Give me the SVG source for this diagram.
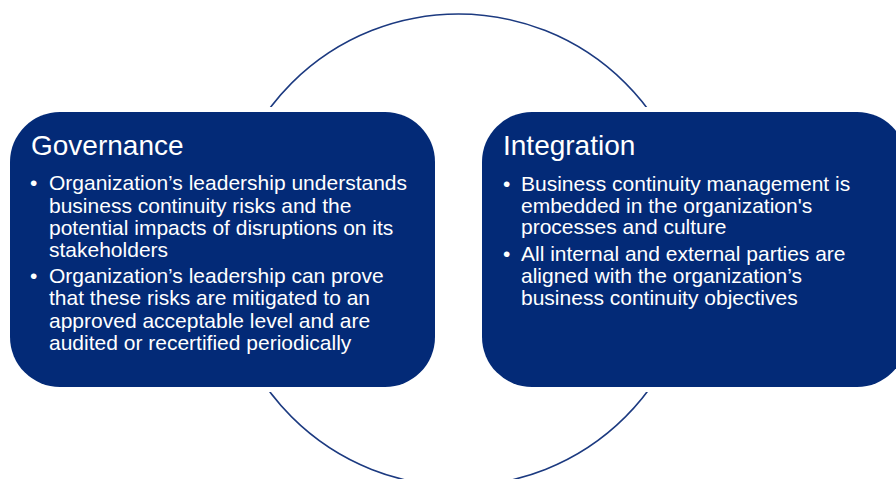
<svg xmlns="http://www.w3.org/2000/svg" width="896" height="479" viewBox="0 0 896 479">
<style>
.box{fill:#032a77}
.gap{fill:#ffffff}
.ring{fill:none;stroke:#1c3a80;stroke-width:1.5}
.title{font-family:"Liberation Sans",Arial,sans-serif;font-size:28px;fill:#ffffff}
.body{font-family:"Liberation Sans",Arial,sans-serif;font-size:21px;fill:#ffffff}
</style>
<rect width="896" height="479" fill="#ffffff"/>
<g id="connectors">
<circle class="ring" cx="458.5" cy="250" r="236"/>
</g>
<g id="governance">
<rect class="gap" x="5" y="107" width="435" height="285" rx="55" ry="55"/>
<rect class="box" x="10" y="112" width="425" height="275" rx="50" ry="50"/>
<text class="title" x="31" y="155">Governance</text>
<text class="body" x="30" y="190">•</text>
<text class="body" x="49" y="190">Organization’s leadership understands</text>
<text class="body" x="49" y="212.5">business continuity risks and the</text>
<text class="body" x="49" y="235">potential impacts of disruptions on its</text>
<text class="body" x="49" y="257">stakeholders</text>
<text class="body" x="30" y="283">•</text>
<text class="body" x="49" y="283">Organization’s leadership can prove</text>
<text class="body" x="49" y="305">that these risks are mitigated to an</text>
<text class="body" x="49" y="327.5">approved acceptable level and are</text>
<text class="body" x="49" y="349.5">audited or recertified periodically</text>
</g>
<g id="integration">
<rect class="gap" x="477" y="107" width="435" height="285" rx="55" ry="55"/>
<rect class="box" x="482" y="112" width="425" height="275" rx="50" ry="50"/>
<text class="title" x="503" y="155">Integration</text>
<text class="body" x="503" y="191">•</text>
<text class="body" x="521" y="191">Business continuity management is</text>
<text class="body" x="521" y="212.5">embedded in the organization's</text>
<text class="body" x="521" y="234">processes and culture</text>
<text class="body" x="503" y="261">•</text>
<text class="body" x="521" y="261">All internal and external parties are</text>
<text class="body" x="521" y="283">aligned with the organization’s</text>
<text class="body" x="521" y="304.5">business continuity objectives</text>
</g>
</svg>
